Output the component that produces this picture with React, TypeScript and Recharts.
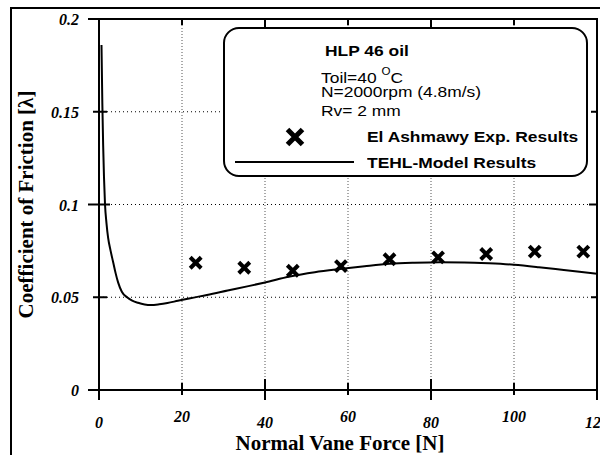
import React from "react";
import {
  ComposedChart,
  Line,
  Scatter,
  XAxis,
  YAxis,
  CartesianGrid,
} from "recharts";

// TEHL model curve (friction vs normal vane force)
const modelForce = [
  0.6, 0.8, 1.0, 1.2, 1.45, 1.8, 2.2, 2.8, 3.4, 4, 4.6, 5.5, 6.75, 8, 9.4, 11,
  12.5, 14.5, 16.5, 19, 22, 26, 31, 36, 40, 46, 52, 58, 64, 70, 76, 82, 88, 94,
  100, 106, 112, 120,
];
const modelFriction = [
  0.186, 0.155, 0.132, 0.115, 0.1, 0.09, 0.082, 0.075, 0.069, 0.063, 0.058,
  0.053, 0.05, 0.0482, 0.047, 0.0461, 0.0458, 0.0462, 0.0469, 0.0481, 0.0495,
  0.0512, 0.0536, 0.056, 0.058, 0.0612, 0.0635, 0.0652, 0.0667, 0.068, 0.0686,
  0.0689, 0.0688, 0.0683, 0.0675, 0.0662, 0.0647, 0.0627,
];

// El Ashmawy experimental points
const expForce = [23.3, 35, 46.7, 58.3, 70, 81.7, 93.3, 105, 116.7];
const expFriction = [
  0.0686, 0.0659, 0.0643, 0.0668, 0.0705, 0.0715, 0.0733, 0.0746, 0.0746,
];

const xTicks = [0, 20, 40, 60, 80, 100, 120];
const xTickLabels = ["0", "20", "40", "60", "80", "100", "120"];
const yTicks = [0, 0.05, 0.1, 0.15, 0.2];
const yTickLabels = ["0", "0.05", "0.1", "0.15", "0.2"];

const conditions = ["N=2000rpm (4.8m/s)", "Rv= 2 mm"];

const modelData = modelForce.map((x, i) => ({ x, y: modelFriction[i] }));
const expData = expForce.map((x, i) => ({ x, y: expFriction[i] }));

// plot box (px)
const PLOT_LEFT = 99;
const PLOT_TOP = 19;
const PLOT_W = 498;
const PLOT_H = 371;

const serif = '"Liberation Serif", "Times New Roman", serif';
const sans = '"Liberation Sans", Arial, Helvetica, sans-serif';

const tickText = {
  fontFamily: serif,
  fontWeight: 700,
  fontStyle: "italic",
  fontSize: 16,
  fill: "#000",
};

const titleText = {
  fontFamily: serif,
  fontWeight: 700,
  fontSize: 21,
  fill: "#000",
};

// bottom tick crosses the axis; a short inward twin sits on the top edge
const BottomTick = (props: any) => {
  const { x, y, payload } = props;
  const i = xTicks.indexOf(payload.value);
  const long = i % 2 === 0;
  const top = y - PLOT_H;
  return (
    <g>
      <line x1={x} x2={x} y1={y - (long ? 11 : 7)} y2={y + (long ? 10 : 5)} stroke="#000" strokeWidth={2} />
      {i > 0 && i < xTicks.length - 1 && (
        <line x1={x} x2={x} y1={top} y2={top + (long ? 8 : 6)} stroke="#000" strokeWidth={2} />
      )}
      <text x={x} y={y + (long ? 38 : 32)} textAnchor="middle" style={tickText}>
        {xTickLabels[i]}
      </text>
    </g>
  );
};

const LeftTick = (props: any) => {
  const { x, y, payload } = props;
  const i = yTicks.indexOf(payload.value);
  const long = i % 2 === 0;
  const right = x + PLOT_W;
  return (
    <g>
      <line x1={x - (long ? 11 : 6)} x2={x + (long ? 11 : 8)} y1={y} y2={y} stroke="#000" strokeWidth={2} />
      {i > 0 && i < yTicks.length - 1 && (
        <line x1={right} x2={right - (long ? 8 : 6)} y1={y} y2={y} stroke="#000" strokeWidth={2} />
      )}
      <text x={x - 20} y={y + 6} textAnchor="end" style={tickText}>
        {yTickLabels[i]}
      </text>
    </g>
  );
};

const XTitle = (props: any) => {
  const { x, y, width, height } = props.viewBox;
  return (
    <text x={x + width / 2 - 8} y={y + height - 5} textAnchor="middle" style={titleText}>
      Normal Vane Force [N]
    </text>
  );
};

const YTitle = (props: any) => {
  const { x, y, height } = props.viewBox;
  const cx = x + 26;
  const cy = y + height / 2;
  return (
    <text x={cx} y={cy} dy={7} textAnchor="middle" transform={`rotate(-90, ${cx}, ${cy})`} style={titleText}>
      Coefficient of Friction [λ]
    </text>
  );
};

const Cross = (props: any) => {
  const { cx, cy } = props;
  const a = 5.5;
  return (
    <path
      d={`M${cx - a},${cy - a}L${cx + a},${cy + a}M${cx + a},${cy - a}L${cx - a},${cy + a}`}
      stroke="#000"
      strokeWidth={4}
      fill="none"
    />
  );
};

const Row = ({ left, top, bold, children }: any) => (
  <div
    style={{
      position: "absolute",
      left,
      top,
      height: 13,
      lineHeight: "13px",
      whiteSpace: "nowrap",
      fontWeight: bold ? 700 : 400,
      transform: "scaleX(1.16)",
      transformOrigin: "0 0",
    }}
  >
    {children}
  </div>
);

const LegendBox = () => (
  <div
    style={{
      position: "absolute",
      left: 223,
      top: 27,
      boxSizing: "border-box",
      width: 365,
      height: 150,
      border: "2px solid #000",
      borderRadius: 16,
      background: "#fff",
      fontFamily: sans,
      fontSize: 15,
      color: "#000",
    }}
  >
    <Row left={100} top={15} bold>
      HLP 46 oil
    </Row>
    <Row left={96} top={42}>
      Toil=40{" "}
      <span style={{ fontSize: 10, position: "relative", top: -8 }}>O</span>C
    </Row>
    <Row left={96} top={56}>
      {conditions[0]}
    </Row>
    <Row left={96} top={75}>
      {conditions[1]}
    </Row>
    <svg width={24} height={24} style={{ position: "absolute", left: 58, top: 96 }}>
      <path d="M4.5,4.5L19.5,19.5M19.5,4.5L4.5,19.5" stroke="#000" strokeWidth={5} />
    </svg>
    <Row left={142} top={101} bold>
      El Ashmawy Exp. Results
    </Row>
    <div style={{ position: "absolute", left: 10, top: 132, width: 119, height: 2, background: "#000" }} />
    <Row left={142} top={127} bold>
      TEHL-Model Results
    </Row>
  </div>
);

export default function App() {
  return (
    <div
      style={{
        position: "absolute",
        left: 0,
        top: 0,
        width: 600,
        height: 455,
        background: "#fff",
        overflow: "hidden",
      }}
    >
      <div
        style={{
          position: "absolute",
          left: 10,
          top: 7,
          width: 600,
          height: 460,
          borderLeft: "2px solid #000",
          borderTop: "2px solid #000",
        }}
      />
      <ComposedChart
        width={600}
        height={455}
        margin={{ top: PLOT_TOP, right: 600 - PLOT_LEFT - PLOT_W, bottom: 0, left: 0 }}
      >
        <CartesianGrid vertical={false} stroke="#000" strokeDasharray="1 3" />
        <CartesianGrid horizontal={false} stroke="#555" strokeDasharray="1 2" />
        <XAxis
          dataKey="x"
          type="number"
          domain={[0, 120]}
          allowDataOverflow
          ticks={xTicks}
          interval={0}
          height={455 - PLOT_TOP - PLOT_H}
          tickSize={0}
          tickMargin={0}
          tickLine={false}
          tick={BottomTick}
          axisLine={{ stroke: "#000", strokeWidth: 2 }}
          label={{ content: XTitle }}
        />
        <YAxis
          type="number"
          domain={[0, 0.2]}
          allowDataOverflow
          ticks={yTicks}
          interval={0}
          width={PLOT_LEFT}
          tickSize={0}
          tickMargin={0}
          tickLine={false}
          tick={LeftTick}
          axisLine={{ stroke: "#000", strokeWidth: 2 }}
          label={{ content: YTitle }}
        />
        <Line
          data={modelData}
          dataKey="y"
          type="monotone"
          stroke="#000"
          strokeWidth={2}
          dot={false}
          activeDot={false}
          isAnimationActive={false}
        />
        <Scatter data={expData} dataKey="y" shape={Cross} isAnimationActive={false} />
      </ComposedChart>
      {/* plot frame */}
      <div
        style={{
          position: "absolute",
          left: PLOT_LEFT - 1,
          top: PLOT_TOP - 1,
          width: PLOT_W + 2,
          height: PLOT_H + 2,
          boxSizing: "border-box",
          border: "2px solid #000",
          pointerEvents: "none",
        }}
      />
      <LegendBox />
    </div>
  );
}
